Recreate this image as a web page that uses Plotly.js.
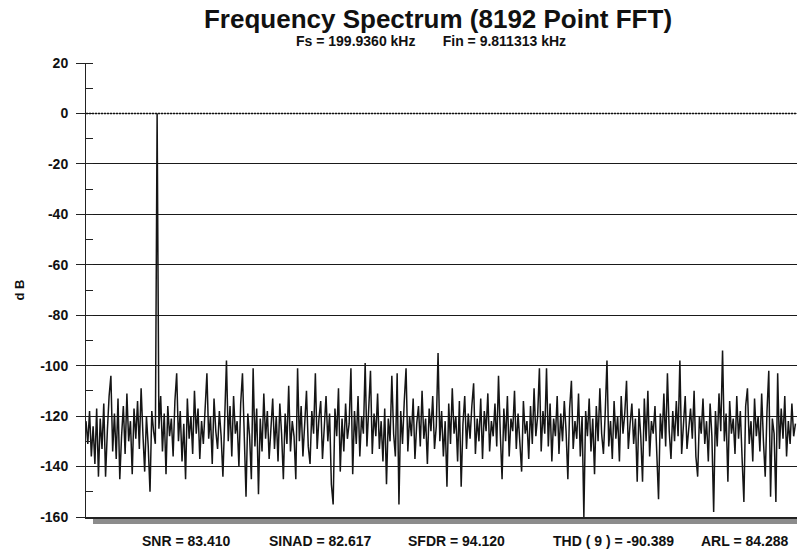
<!DOCTYPE html>
<html>
<head>
<meta charset="utf-8">
<script src="https://cdn.plot.ly/plotly-3.0.1.min.js"></script>
<style>html,body{margin:0;padding:0;background:#fff;}#chart{width:797px;height:555px;}</style>
</head>
<body>
<div id="chart"></div>
<script>
// ---- Data (decimated spectrum) ----
const chartTitle = 'Frequency Spectrum (8192 Point FFT)';
const subTitle = 'Fs = 199.9360 kHz\u00a0\u00a0\u00a0\u00a0\u00a0\u00a0\u00a0Fin = 9.811313 kHz';
const yAxisLabel = 'd B';
const statLabels = ['SNR = 83.410', 'SINAD = 82.617', 'SFDR = 94.120', 'THD ( 9 ) = -90.389', 'ARL = 84.288'];
const freqStartKHz = 0;
const freqStepKHz = 0.25;
const nyquistKHz = 99.968;
const yTickVals = [20, 0, -20, -40, -60, -80, -100, -120, -140, -160];
const yTickLabels = ['20', '0', '-20', '-40', '-60', '-80', '-100', '-120', '-140', '-160'];
const spectrumDb = [
 -122,-131,-118,-136,-124,-139,-117,-144,-121,-133,-115,-144,-126,-112,-104,-134,-119,-137,-113,-145,
 -128,-116,-135,-111,-130,-122,-143,-117,-129,-114,-133,-109,-127,-142,-120,-132,-150,-118,-126,-131,
 0,-125,-112,-134,-119,-143,-116,-128,-121,-136,-114,-103,-130,-118,-138,-123,-145,-113,-129,-120,
 -135,-110,-127,-117,-137,-122,-131,-115,-103,-129,-120,-139,-113,-126,-133,-118,-128,-144,-121,-98,
 -130,-116,-136,-112,-127,-122,-140,-115,-103,-131,-152,-119,-128,-145,-101,-132,-117,-151,-121,-134,
 -111,-129,-118,-137,-124,-113,-133,-120,-138,-115,-127,-145,-119,-131,-108,-134,-122,-128,-145,-101,
 -130,-116,-136,-120,-110,-132,-139,-118,-127,-103,-133,-121,-114,-137,-125,-112,-130,-119,-147,-155,
 -117,-128,-109,-142,-121,-134,-115,-129,-123,-101,-143,-118,-131,-112,-136,-120,-127,-99,-132,-116,
 -102,-135,-119,-128,-111,-133,-122,-138,-117,-147,-121,-130,-104,-127,-136,-103,-155,-118,-131,-114,
 -101,-134,-120,-128,-113,-137,-123,-116,-132,-110,-129,-121,-139,-117,-126,-112,-133,-124,-95,-130,
 -118,-136,-122,-148,-115,-131,-109,-127,-120,-138,-114,-148,-123,-112,-133,-119,-129,-116,-107,-135,
 -121,-130,-113,-137,-118,-126,-111,-134,-122,-128,-115,-132,-104,-127,-145,-117,-130,-112,-136,-121,
 -126,-110,-133,-119,-129,-142,-114,-127,-122,-137,-116,-131,-109,-128,-120,-101,-134,-118,-127,-101,
 -132,-115,-138,-121,-128,-112,-135,-119,-130,-114,-126,-145,-117,-106,-133,-122,-129,-111,-136,-120,
 -160,-118,-128,-113,-134,-121,-143,-116,-130,-109,-127,-135,-119,-98,-132,-122,-137,-114,-129,-120,
 -138,-112,-127,-119,-106,-133,-123,-115,-131,-121,-146,-117,-128,-146,-113,-130,-110,-136,-122,-127,
 -116,-134,-153,-119,-129,-111,-132,-103,-126,-137,-118,-130,-114,-128,-98,-135,-121,-112,-133,-124,
 -117,-129,-110,-136,-144,-120,-127,-113,-131,-122,-138,-115,-128,-158,-118,-132,-111,-126,-94,-130,
 -119,-146,-114,-127,-121,-135,-112,-129,-118,-137,-154,-116,-109,-131,-122,-138,-113,-128,-120,-134,
 -111,-130,-144,-118,-102,-152,-121,-127,-154,-103,-133,-117,-129,-112,-136,-122,-131,-115,-128,-123
];

// ---- Styling ----
const FONT = 'Liberation Sans, Arial, Helvetica, sans-serif';
const INK = '#111';
const PL = 86, PR = 797, PT = 63, PB = 517;
const pw = PR - PL, ph = PB - PT;
const px2paperX = p => (p - PL) / pw;
const px2paperY = p => (PB - p) / ph;

const trace = {
  type: 'scatter',
  mode: 'lines',
  x0: freqStartKHz,
  dx: freqStepKHz,
  y: spectrumDb,
  line: {color: '#151515', width: 1.5},
  hoverinfo: 'skip'
};

const statCenters = [186, 320, 456, 613, 745];
const annotations = statLabels.map((t, i) => ({
  text: t, xref: 'paper', yref: 'paper',
  x: px2paperX(statCenters[i]), y: px2paperY(541),
  xanchor: 'center', yanchor: 'middle', showarrow: false,
  font: {family: FONT, size: 14, color: INK, weight: 'bold'}
}));
annotations.push({
  text: subTitle, xref: 'paper', yref: 'paper',
  x: px2paperX(431), y: px2paperY(41),
  xanchor: 'center', yanchor: 'middle', showarrow: false,
  font: {family: FONT, size: 14, color: INK, weight: 'bold'}
});

const layout = {
  width: 797, height: 555,
  margin: {l: PL, r: 797 - PR, t: PT, b: 555 - PB, pad: 0},
  paper_bgcolor: '#fff', plot_bgcolor: '#fff',
  showlegend: false,
  title: {
    text: chartTitle,
    font: {family: FONT, size: 26, color: INK, weight: 'bold'},
    xref: 'container', x: 438 / 797, xanchor: 'center',
    yref: 'container', y: 1 - 19 / 555, yanchor: 'middle'
  },
  xaxis: {
    range: [0, nyquistKHz],
    showgrid: false, zeroline: false,
    showticklabels: false, ticks: '',
    showline: true, linecolor: '#222', linewidth: 2,
    fixedrange: true
  },
  yaxis: {
    range: [-160, 20],
    tickvals: yTickVals, ticktext: yTickLabels,
    ticks: 'outside', ticklen: 9, tickcolor: '#222', tickwidth: 1,
    ticklabelstandoff: 5,
    tickfont: {family: FONT, size: 14, color: INK, weight: 'bold'},
    showgrid: true, gridcolor: '#1a1a1a', gridwidth: 1,
    zeroline: true, zerolinecolor: '#888', zerolinewidth: 1,
    showline: true, linecolor: '#222', linewidth: 1,
    minor: {dtick: 10, tick0: 0, ticks: 'inside', ticklen: 7, tickcolor: '#222', tickwidth: 1, showgrid: false},
    title: {text: yAxisLabel, font: {family: FONT, size: 13, color: INK, weight: 'bold'}, standoff: 12},
    fixedrange: true
  },
  shapes: [
    {type: 'line', xref: 'paper', x0: 0, x1: 1, yref: 'y', y0: 0, y1: 0,
     line: {color: '#111', width: 1.5, dash: '2px,1px'}, layer: 'above'},
    {type: 'rect', xref: 'paper', x0: px2paperX(93), x1: 1, yref: 'paper', y0: px2paperY(524), y1: px2paperY(518.5),
     fillcolor: '#8c8c8c', line: {width: 0}, layer: 'below'}
  ],
  annotations: annotations
};

Plotly.newPlot('chart', [trace], layout, {staticPlot: true, displayModeBar: false});
</script>
</body>
</html>
